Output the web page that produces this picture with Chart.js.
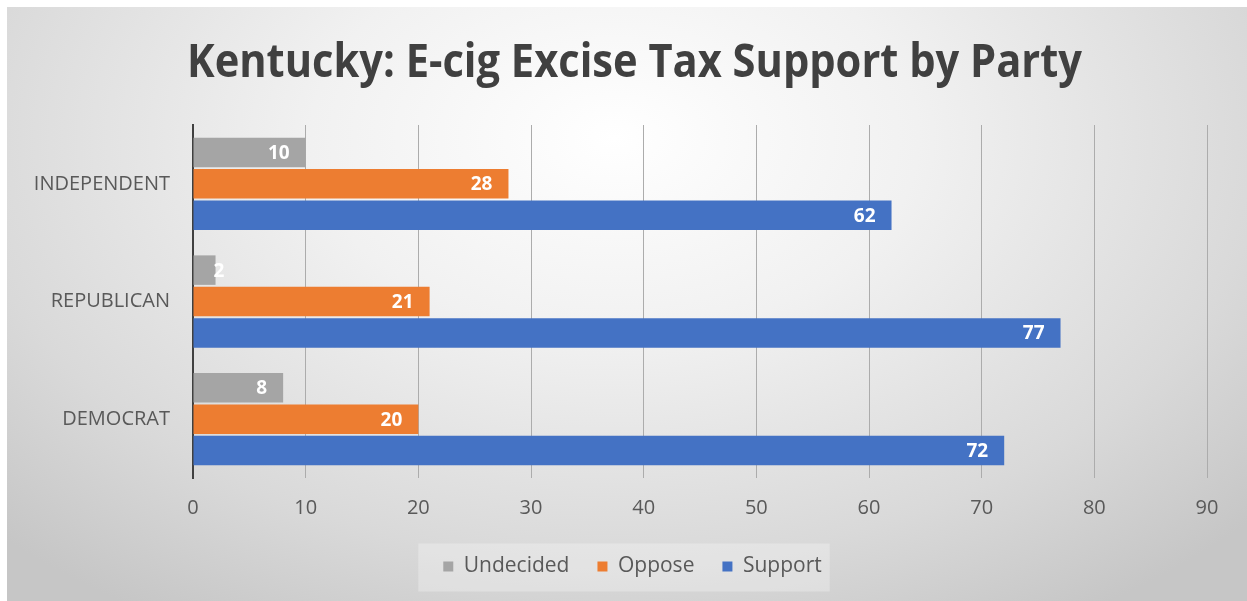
<!DOCTYPE html>
<html>
<head>
<meta charset="utf-8">
<script src="https://cdn.jsdelivr.net/npm/chart.js@4/dist/chart.umd.min.js"></script>
<style>
  html, body { margin: 0; padding: 0; background: #fff; }
  #wrap {
    position: absolute; left: 7px; top: 7px; width: 1240px; height: 594px;
    background: radial-gradient(ellipse 70% 95% at 49% 22%, #ffffff 0%, #f1f1f1 35%, #d9d9d9 75%, #c6c6c6 100%);
  }
</style>
</head>
<body>
<div id="wrap"><canvas id="chart"></canvas></div>
<script>
// ── data ─────────────────────────────
const titleText = "Kentucky: E-cig Excise Tax Support by Party";
const parties = ["INDEPENDENT", "REPUBLICAN", "DEMOCRAT"];
const undecided = [10, 2, 8];
const oppose = [28, 21, 20];
const support = [62, 77, 72];
const xTicks = [0, 10, 20, 30, 40, 50, 60, 70, 80, 90];

const labelColor = "#595959";
const fontFamily = '"Open Sans", "DejaVu Sans", sans-serif';
const legendPad = 28;

// Excel-ish narrow bold title, squeezed to the original width
const titlePlugin = {
  id: "squeezedTitle",
  afterDraw(chart) {
    const { ctx } = chart;
    ctx.save();
    ctx.font = `bold 46px ${fontFamily}`;
    ctx.fillStyle = "#404040";
    ctx.textBaseline = "alphabetic";
    ctx.textAlign = "center";
    const w = ctx.measureText(titleText).width;
    ctx.translate(627.5, 70);
    ctx.scale(895 / w, 1);
    ctx.fillText(titleText, 0, 0);
    ctx.restore();
  },
};

// legend sits centred under the plot, not under the whole canvas
const legendShift = {
  id: "legendShift",
  afterLayout(chart) {
    const lg = chart.legend;
    if (!lg) return;
    lg.left += 15;
    lg.right += 15;
  },
};

// light panel behind the legend
const legendPanel = {
  id: "legendPanel",
  beforeDraw(chart) {
    const lg = chart.legend;
    const boxes = lg && lg.legendHitBoxes;
    if (!boxes || !boxes.length) return;
    const total = boxes.reduce((s, b) => s + b.width, 0) + legendPad * (boxes.length - 1);
    const mid = (lg.left + lg.right) / 2;
    const cy = lg.top + legendPad + boxes[0].height / 2;
    const { ctx } = chart;
    ctx.save();
    ctx.fillStyle = "rgba(255,255,255,0.28)";
    ctx.fillRect(mid - total / 2 - 25, cy - 23, total + 33, 48);
    ctx.restore();
  },
};

// white value labels inside the bar end, kept clear of the axis
const barLabels = {
  id: "barLabels",
  afterDatasetsDraw(chart) {
    const { ctx } = chart;
    ctx.save();
    ctx.font = `bold 19px ${fontFamily}`;
    ctx.fillStyle = "#ffffff";
    ctx.textAlign = "right";
    ctx.textBaseline = "middle";
    chart.data.datasets.forEach((ds, di) => {
      chart.getDatasetMeta(di).data.forEach((bar, i) => {
        const txt = String(ds.data[i]);
        const w = ctx.measureText(txt).width;
        const x = Math.max(bar.x - 16, bar.base + w + 20);
        ctx.fillText(txt, x, bar.y + 1);
      });
    });
    ctx.restore();
  },
};

new Chart(document.getElementById("chart"), {
  type: "bar",
  data: {
    labels: parties,
    datasets: [
      { label: "Undecided", data: undecided, backgroundColor: "#a5a5a5" },
      { label: "Oppose", data: oppose, backgroundColor: "#ed7d31" },
      { label: "Support", data: support, backgroundColor: "#4472c4" },
    ].map((ds) => ({ ...ds, categoryPercentage: 0.8, barPercentage: 0.94, borderWidth: 0 })),
  },
  options: {
    indexAxis: "y",
    responsive: true,
    maintainAspectRatio: false,
    animation: false,
    layout: { padding: { top: 118, left: 21, right: 40, bottom: 14 } },
    plugins: {
      title: { display: false },
      tooltip: { enabled: false },
      legend: {
        position: "bottom",
        labels: {
          color: labelColor,
          font: { family: fontFamily, size: 21 },
          boxWidth: 10,
          boxHeight: 10,
          padding: legendPad,
        },
      },
    },
    scales: {
      x: {
        min: 0,
        max: 90,
        afterBuildTicks: (scale) => { scale.ticks = xTicks.map((v) => ({ value: v })); },
        afterFit: (scale) => { scale.height = 50; },
        grid: { color: "#acacac", lineWidth: 1, drawTicks: false },
        border: { display: false },
        ticks: { color: labelColor, font: { family: fontFamily, size: 20 }, padding: 18 },
      },
      y: {
        afterFit: (scale) => { scale.width = 165; },
        grid: { display: false, drawTicks: false },
        border: { color: "#404040", width: 2 },
        ticks: { color: labelColor, font: { family: fontFamily, size: 20 }, padding: 23 },
      },
    },
  },
  plugins: [legendShift, legendPanel, barLabels, titlePlugin],
});
</script>
</body>
</html>
